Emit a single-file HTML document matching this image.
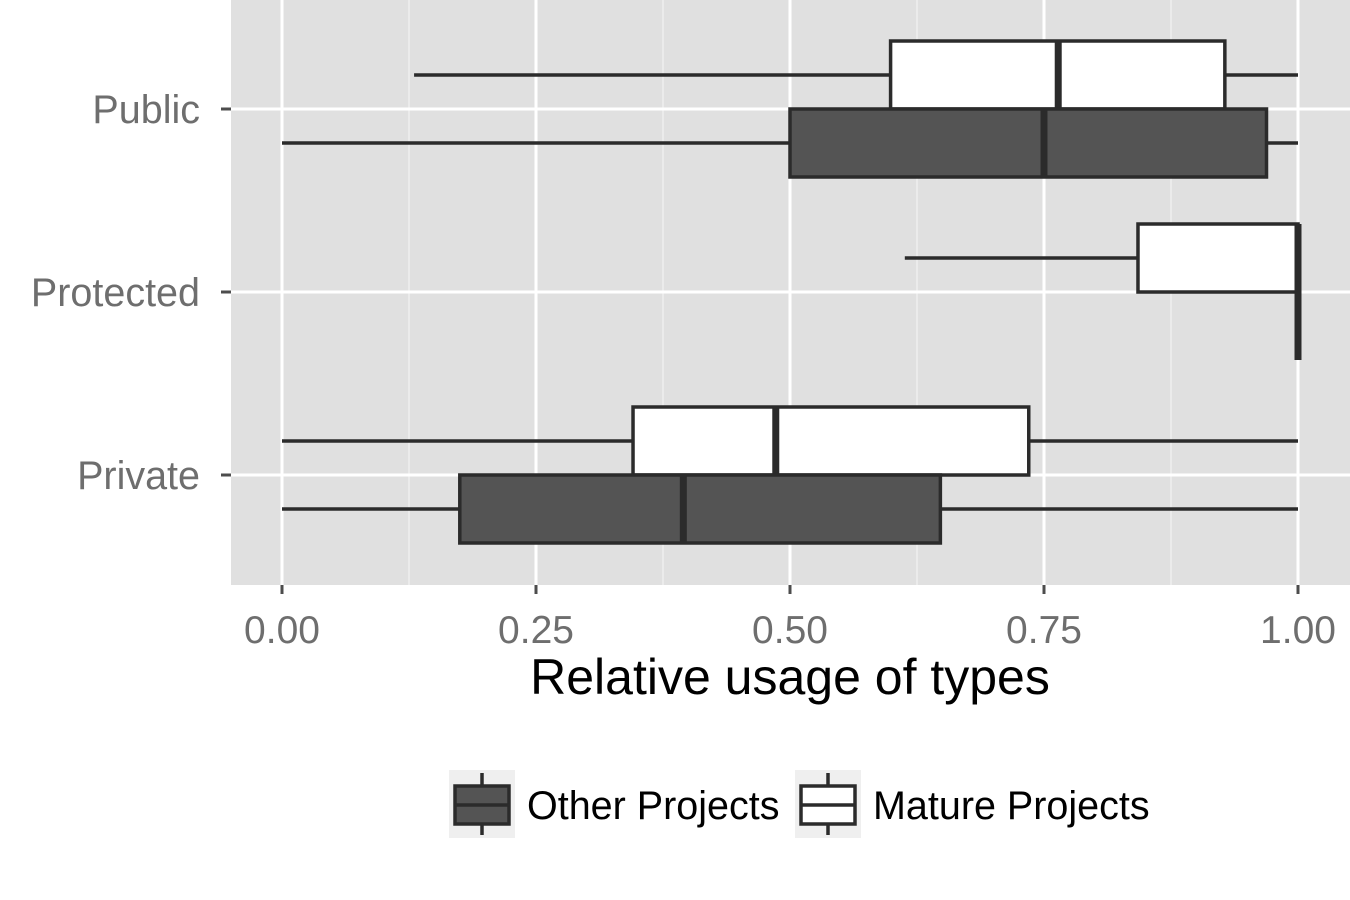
<!DOCTYPE html>
<html><head><meta charset="utf-8"><style>
body{margin:0;background:#fff;}
svg{display:block;font-family:"Liberation Sans",Arial,sans-serif;}
</style></head><body>
<svg id="chart" width="1350" height="900"></svg>
<script>
const categories=["Public","Protected","Private"];
const matureStats=[[0.13,0.599,0.764,0.928,1.0],[0.613,0.8425,1.0,1.0,1.0],[0.0,0.3455,0.486,0.735,1.0]];
const otherStats=[[0.0,0.5,0.75,0.969,1.0],[1.0,1.0,1.0,1.0,1.0],[0.0,0.175,0.395,0.648,1.0]];
const xTicks=[0,0.25,0.5,0.75,1];
const xTickLabels=["0.00","0.25","0.50","0.75","1.00"];
const ns="http://www.w3.org/2000/svg";
const svg=document.getElementById("chart");
const X=v=>282+v*1016;
const Y=i=>109+i*183;
function mk(t,a,p){const e=document.createElementNS(ns,t);for(const k in a)e.setAttribute(k,a[k]);(p||svg).appendChild(e);return e;}
const panel=mk("rect",{x:231,y:0,width:1119,height:585,fill:"#e0e0e0"});


for(let i=0;i<xTicks.length-1;i++){const m=(xTicks[i]+xTicks[i+1])/2;
const g=mk("line",{x1:X(m),x2:X(m),y1:0,y2:585,stroke:"#f2f2f2","stroke-width":1.2});

}
xTicks.forEach((t,i)=>{
const g=mk("line",{x1:X(t),x2:X(t),y1:0,y2:585,stroke:"#fff","stroke-width":3});


const tk=mk("line",{x1:X(t),x2:X(t),y1:585,y2:594,stroke:"#4d4d4d","stroke-width":3});


const lb=mk("text",{x:X(t),y:643,"text-anchor":"middle","font-size":39,fill:"#6e6e6e"});
lb.textContent=xTickLabels[i];


});
categories.forEach((c,i)=>{
const g=mk("line",{x1:231,x2:1350,y1:Y(i),y2:Y(i),stroke:"#fff","stroke-width":3});


const tk=mk("line",{x1:221,x2:231,y1:Y(i),y2:Y(i),stroke:"#4d4d4d","stroke-width":3});


const lb=mk("text",{x:200,y:Y(i)+14,"text-anchor":"end","font-size":39.5,fill:"#6e6e6e"});
lb.textContent=c;


});
function box(s,cy,fill,name){
const g=mk("g",{});


const h=68,top=cy-h/2;
mk("line",{x1:X(s[0]),x2:X(s[1]),y1:cy,y2:cy,stroke:"#2b2b2b","stroke-width":3.5},g);
mk("line",{x1:X(s[3]),x2:X(s[4]),y1:cy,y2:cy,stroke:"#2b2b2b","stroke-width":3.5},g);
mk("rect",{x:X(s[1]),y:top,width:Math.max(0,X(s[3])-X(s[1])),height:h,fill:fill,stroke:"#2b2b2b","stroke-width":3.5},g);
mk("line",{x1:X(s[2]),x2:X(s[2]),y1:top,y2:top+h,stroke:"#2b2b2b","stroke-width":7},g);
}
categories.forEach((c,i)=>{
box(matureStats[i],Y(i)-34,"#ffffff","mature-box-"+c.toLowerCase());
box(otherStats[i],Y(i)+34,"#545454","other-box-"+c.toLowerCase());
});
const xt=mk("text",{x:790,y:694,"text-anchor":"middle","font-size":50,fill:"#000"});
xt.textContent="Relative usage of types";


function key(x,fill,label,name){
const g=mk("g",{});


mk("rect",{x:x,y:770,width:66,height:68,fill:"#efefef"},g);
mk("line",{x1:x+33,x2:x+33,y1:773,y2:835,stroke:"#2b2b2b","stroke-width":3.5},g);
mk("rect",{x:x+6,y:786,width:54,height:38,fill:fill,stroke:"#2b2b2b","stroke-width":3.5},g);
mk("line",{x1:x+6,x2:x+60,y1:805,y2:805,stroke:"#2b2b2b","stroke-width":3.5},g);
const t=mk("text",{x:x+78,y:819,"font-size":39.5,fill:"#000"},g);t.textContent=label;
}
key(449,"#545454","Other Projects","legend-entry-other");
key(795,"#ffffff","Mature Projects","legend-entry-mature");
</script>
</body></html>
